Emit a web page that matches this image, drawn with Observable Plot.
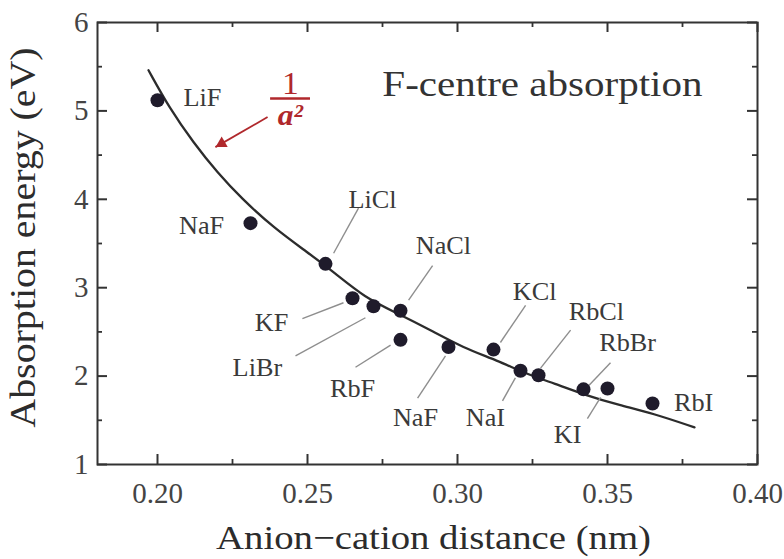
<!DOCTYPE html>
<html><head><meta charset="utf-8">
<script src="https://cdn.jsdelivr.net/npm/d3@7"></script>
<script src="https://cdn.jsdelivr.net/npm/@observablehq/plot@0.6"></script>
<style>html,body{margin:0;padding:0;background:#fff;}</style>
</head><body><div id="chart"></div>
<script>
// ---- data ----
const salts    = ["LiF","NaF","LiCl","KF","LiBr","NaCl","RbF","NaF","KCl","NaI","RbCl","KI","RbBr","RbI"];
const distance = [0.200,0.231,0.256,0.265,0.272,0.281,0.281,0.297,0.312,0.321,0.327,0.342,0.350,0.365];
const energy   = [5.12,3.73,3.27,2.88,2.79,2.74,2.41,2.33,2.30,2.06,2.01,1.85,1.86,1.69];

// label anchor positions (data units)
const labelX = [0.215,0.2147,0.2717,0.238,0.2333,0.2953,0.265,0.286,0.3257,0.3093,0.3463,0.3367,0.3567,0.3787];
const labelY = [5.15,3.70,3.99,2.60,2.09,3.47,1.85,1.53,2.95,1.53,2.72,1.33,2.37,1.70];

// leader lines (data units)
const leaderSalts = ["LiCl","NaCl","KF","LiBr","RbF","NaF","NaI","KCl","RbCl","RbBr","KI"];
const leaderX1 = [0.2587,0.2837,0.2483,0.2460,0.2660,0.2867,0.3150,0.3143,0.3277,0.3437,0.3433];
const leaderY1 = [3.39,2.86,2.65,2.23,2.10,1.75,1.72,2.38,2.09,1.89,1.52];
const leaderX2 = [0.2670,0.2917,0.2620,0.2693,0.2777,0.2960,0.3193,0.3227,0.3377,0.3510,0.3477];
const leaderY2 = [3.90,3.25,2.83,2.66,2.35,2.23,1.98,2.80,2.52,2.15,1.76];

// fitted 1/a^2 curve
const curveX = [0.197,0.204,0.212,0.220,0.228,0.239,0.250,0.259,0.269,0.280,0.291,0.302,0.313,0.324,0.332,0.343,0.354,0.365,0.379];
const curveY = [5.46,5.03,4.64,4.30,4.01,3.67,3.40,3.17,2.89,2.71,2.52,2.32,2.18,2.01,1.92,1.78,1.67,1.58,1.42];

// ticks
const xMajor = [0.20,0.25,0.30,0.35,0.40];
const xMinor = [0.225,0.275,0.325,0.375];
const yMajor = [1,2,3,4,5,6];
const yMinor = [1.5,2.5,3.5,4.5,5.5];

// annotation text
const titleText = ["F-centre absorption"];
const titleX = [0.3283], titleY = [5.30];
const fracNum = ["1"], fracDen = ["a²"];
const fracX = [0.2443], fracNumY = [5.31], fracBarY = [5.14], fracDenY = [4.95];
const fracBarX1 = [0.2377], fracBarX2 = [0.2510];
const arrowX1 = [0.2367], arrowY1 = [4.93], arrowX2 = [0.2193], arrowY2 = [4.59];
const xLabel = ["Anion\u2212cation distance (nm)"];
const yLabel = ["Absorption energy (eV)"];

// ---- layout ----
const W = 784, H = 559, mL = 97, mR = 27, mT = 22, mB = 95;
const fw = W - mL - mR, fh = H - mT - mB;
const majorLen = 10, minorLen = 5;
const red = "#b0282c", ink = "#2c2c2c";

const points = salts.map((s, i) => ({s, x: distance[i], y: energy[i]}));
const labels = salts.map((s, i) => ({s, x: labelX[i], y: labelY[i]}));
const leaders = leaderSalts.map((s, i) => ({s, x1: leaderX1[i], y1: leaderY1[i], x2: leaderX2[i], y2: leaderY2[i]}));
const curve = curveX.map((x, i) => ({x, y: curveY[i]}));
const title = titleText.map((t, i) => ({t, x: titleX[i], y: titleY[i]}));
const num = fracNum.map((t, i) => ({t, x: fracX[i], y: fracNumY[i]}));
const den = fracDen.map((t, i) => ({t, x: fracX[i], y: fracDenY[i]}));
const bar = fracBarY.map((y, i) => ({y, x1: fracBarX1[i], x2: fracBarX2[i]}));
const arrow = arrowX1.map((x1, i) => ({x1, y1: arrowY1[i], x2: arrowX2[i], y2: arrowY2[i]}));
// arrow head sits just behind the tip, pointing along the shaft
const head = arrow.map(a => ({x: a.x2 + (a.x1 - a.x2) * 0.12, y: a.y2 + (a.y1 - a.y2) * 0.12}));

const tickStyle = (w) => ({stroke: "#333", strokeWidth: w});

const plot = Plot.plot({
  width: W, height: H,
  marginLeft: mL, marginRight: mR, marginTop: mT, marginBottom: mB,
  style: {fontFamily: "'Liberation Serif', 'Times New Roman', serif", background: "#fff", overflow: "visible"},
  x: {domain: [0.18, 0.40]},
  y: {domain: [1, 6]},
  marks: [
    Plot.line(curve, {x: "x", y: "y", curve: "basis", stroke: ink, strokeWidth: 2.3}),
    Plot.link(leaders, {x1: "x1", y1: "y1", x2: "x2", y2: "y2", stroke: "#8e8e8e", strokeWidth: 1.4}),
    Plot.dot(points, {x: "x", y: "y", r: 7, fill: "#1f1b2b", stroke: "none"}),
    Plot.text(labels, {x: "x", y: "y", text: "s", fontSize: 25, fill: "#3a3a3a"}),
    // title
    Plot.text(title, {x: "x", y: "y", text: "t", fontSize: 36, fill: "#333"}),
    // 1/a^2 annotation
    Plot.text(num, {x: "x", y: "y", text: "t", fontSize: 32, fill: red}),
    Plot.ruleY(bar, {y: "y", x1: "x1", x2: "x2", stroke: red, strokeWidth: 2.4}),
    Plot.text(den, {x: "x", y: "y", text: "t", fontSize: 30, fill: red, fontStyle: "italic", fontWeight: "bold"}),
    Plot.link(arrow, {x1: "x1", y1: "y1", x2: "x2", y2: "y2", stroke: red, strokeWidth: 1.8}),
    Plot.dot(head, {x: "x", y: "y", symbol: "triangle", r: 4.5, rotate: -120, fill: red, stroke: "none"}),
    // ticks, inward on all four sides
    Plot.ruleX(xMajor, {x: d => d, insetTop: fh - majorLen, ...tickStyle(2)}),
    Plot.ruleX(xMajor, {x: d => d, insetBottom: fh - majorLen, ...tickStyle(2)}),
    Plot.ruleX(xMinor, {x: d => d, insetTop: fh - minorLen, ...tickStyle(1.8)}),
    Plot.ruleX(xMinor, {x: d => d, insetBottom: fh - minorLen, ...tickStyle(1.8)}),
    Plot.ruleY(yMajor, {y: d => d, insetRight: fw - majorLen, ...tickStyle(2)}),
    Plot.ruleY(yMajor, {y: d => d, insetLeft: fw - majorLen, ...tickStyle(2)}),
    Plot.ruleY(yMinor, {y: d => d, insetRight: fw - minorLen, ...tickStyle(1.8)}),
    Plot.ruleY(yMinor, {y: d => d, insetLeft: fw - minorLen, ...tickStyle(1.8)}),
    Plot.axisX({ticks: xMajor, tickSize: 0, tickPadding: 18, tickFormat: d3.format(".2f"), fontSize: 29, fill: "#444", label: null}),
    Plot.axisY({ticks: yMajor, tickSize: 0, tickPadding: 9, tickFormat: d3.format("d"), fontSize: 29, fill: "#444", label: null}),
    Plot.frame({stroke: "#333", strokeWidth: 2}),
    // axis titles
    Plot.text(xLabel, {text: d => d, frameAnchor: "bottom", textAnchor: "middle", lineAnchor: "middle", dx: 6, dy: 74, fontSize: 34, fill: ink}),
    Plot.text(yLabel, {text: d => d, frameAnchor: "left", textAnchor: "middle", lineAnchor: "middle", rotate: -90, dx: -74, dy: -6, fontSize: 35, fill: ink})
  ]
});

document.getElementById("chart").appendChild(plot);

// the reference typeface is wider than Times: widen glyphs along their baseline
plot.querySelectorAll("text").forEach(t => {
  const fs = parseFloat(getComputedStyle(t).fontSize) || 10;
  const s = fs >= 34 ? 1.14 : fs >= 30 ? 1.05 : fs >= 28 ? 1.0 : 1.05;
  const tr = t.getAttribute("transform") || "";
  const x = parseFloat(t.getAttribute("x")) || 0;
  t.setAttribute("transform", `${tr} translate(${x},0) scale(${s},1) translate(${-x},0)`.trim());
});
</script>
</body></html>
